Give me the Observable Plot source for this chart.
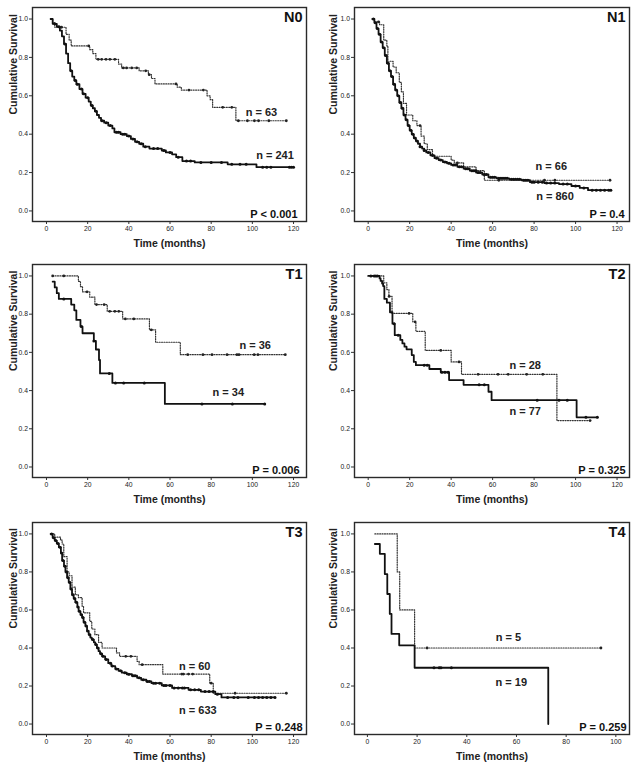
<!DOCTYPE html>
<html><head><meta charset="utf-8">
<script src="https://cdn.jsdelivr.net/npm/d3@7"></script>
<script src="https://cdn.jsdelivr.net/npm/@observablehq/plot@0.6"></script>
<style>
body{margin:0;background:#fff;}
#wrap{position:relative;width:637px;height:770px;background:#fff;}
.p{position:absolute;}
</style></head><body><div id="wrap"></div>
<script>
// ---------- DATA ----------
const panelNames = ["N0", "N1", "T1", "T2", "T3", "T4"];
const pValues = ["P < 0.001", "P = 0.4", "P = 0.006", "P = 0.325", "P = 0.248", "P = 0.259"];
const nSolid = [241, 860, 34, 77, 633, 19];
const nDotted = [63, 66, 36, 28, 60, 5];
const yTickValues = [0, 0.2, 0.4, 0.6, 0.8, 1.0];
const xTicks120 = [0, 20, 40, 60, 80, 100, 120];
const xTicks100 = [0, 20, 40, 60, 80, 100];

// N0
const n0SolidTime = [2, 3, 5, 6.5, 7.5, 8.5, 9.5, 10.5, 11.5, 12.5, 13.5, 14.5, 16, 17.5, 19, 20.5, 21.5, 22.5, 23.5, 24.5, 25.5, 26.5, 28, 30, 32, 33, 36, 39, 41, 43, 45, 47, 50, 56, 58, 61, 63, 66, 72, 88, 102];
const n0SolidSurv = [1.0, 0.975, 0.96, 0.94, 0.91, 0.87, 0.82, 0.77, 0.73, 0.70, 0.68, 0.66, 0.635, 0.61, 0.59, 0.57, 0.55, 0.535, 0.52, 0.50, 0.485, 0.47, 0.46, 0.445, 0.43, 0.41, 0.40, 0.39, 0.375, 0.36, 0.35, 0.335, 0.325, 0.315, 0.305, 0.295, 0.28, 0.26, 0.253, 0.243, 0.228];
const n0SolidEnd = 120;
const n0SolidCens = [4, 6, 9, 12, 14, 15, 17, 18, 20, 22, 24, 27, 29, 31, 34, 35, 37, 38, 40, 42, 44, 46, 48, 52, 54, 57, 60, 64, 68, 70, 75, 80, 85, 90, 94, 97, 105, 107, 109, 118, 119, 120];
const n0DotTime = [2, 3, 4, 9.5, 11, 12, 21, 22.5, 24, 35, 36.5, 45, 49.5, 51, 52.7, 63.5, 65.5, 78, 79.5, 80.7, 92];
const n0DotSurv = [1.0, 0.98, 0.957, 0.92, 0.89, 0.86, 0.84, 0.82, 0.79, 0.765, 0.745, 0.73, 0.71, 0.69, 0.662, 0.645, 0.63, 0.60, 0.58, 0.54, 0.47];
const n0DotEnd = 116.5;
const n0DotCens = [7.3, 20.5, 25.1, 26.8, 28.9, 30.8, 33.2, 37.3, 38.9, 41.4, 43.8, 48.2, 49.9, 62.9, 69.2, 76.2, 85.6, 90, 93.2, 97.6, 101, 103, 108, 116.5];

// N1
const n1SolidTime = [2, 3, 4, 5, 6, 7, 8, 9, 10, 11, 12, 13, 14, 15, 16, 17, 18, 19, 20, 21, 22, 23, 24, 25, 26, 27, 28, 30, 32, 34, 36, 38, 40, 43, 46, 49, 52, 55, 58, 62, 68, 74, 78, 85, 92, 98, 102, 106];
const n1SolidSurv = [1.0, 0.98, 0.95, 0.92, 0.88, 0.85, 0.81, 0.77, 0.73, 0.70, 0.66, 0.63, 0.60, 0.565, 0.535, 0.50, 0.475, 0.445, 0.42, 0.40, 0.38, 0.365, 0.35, 0.335, 0.325, 0.315, 0.305, 0.29, 0.275, 0.265, 0.255, 0.248, 0.24, 0.23, 0.22, 0.21, 0.2, 0.19, 0.175, 0.17, 0.165, 0.16, 0.15, 0.145, 0.14, 0.13, 0.12, 0.108];
const n1SolidEnd = 117;
const n1SolidCens = [2.5, 3.5, 4.5, 5.5, 6.5, 7.5, 8.5, 9.5, 10.5, 11.5, 12.5, 13.5, 14.5, 15.5, 16.5, 17.5, 18.5, 19.5, 20.5, 21.5, 22.5, 23.5, 25, 27, 29, 31, 33, 35, 37, 39, 41, 42, 44, 45, 47, 48, 50, 51, 53, 54, 56, 57, 59, 60, 61, 63, 64, 65, 66, 67, 69, 70, 71, 72, 73, 75, 76, 77, 79, 80, 82, 84, 86, 88, 90, 94, 96, 100, 104, 108, 110, 112, 114, 116, 117];
const n1DotTime = [2, 3, 5.5, 7.5, 9, 9.5, 12, 13.5, 15, 16, 17, 18.5, 21.5, 23.5, 25.5, 27, 28.5, 31, 40, 41.5, 46, 52, 56];
const n1DotSurv = [1.0, 0.985, 0.97, 0.89, 0.86, 0.78, 0.75, 0.72, 0.67, 0.62, 0.56, 0.50, 0.47, 0.445, 0.39, 0.35, 0.32, 0.285, 0.265, 0.25, 0.23, 0.21, 0.16];
const n1DotEnd = 116.6;
const n1DotCens = [5, 25, 43, 52, 63, 85, 90, 116.6];

// T1
const t1SolidTime = [3, 4, 5, 6, 12, 13.5, 14.5, 16.5, 17.5, 23, 24, 25.5, 26, 32, 57.5];
const t1SolidSurv = [0.97, 0.94, 0.91, 0.88, 0.85, 0.82, 0.77, 0.735, 0.70, 0.66, 0.615, 0.56, 0.49, 0.44, 0.33];
const t1SolidEnd = 106;
const t1SolidCens = [8.4, 17, 23, 30.5, 33.5, 37.5, 47.5, 75.5, 90.3, 106];
const t1DotTime = [3, 15.5, 16.5, 17.5, 21, 23.5, 29.5, 37, 50, 53, 65];
const t1DotSurv = [1.0, 0.972, 0.944, 0.917, 0.889, 0.85, 0.815, 0.775, 0.718, 0.653, 0.588];
const t1DotEnd = 116;
const t1DotCens = [3, 8.4, 19.7, 24.3, 28, 30.7, 33.2, 35.1, 38.3, 42.4, 50.9, 68.6, 76, 80.4, 87.7, 92.5, 93.5, 100.9, 102.7, 116];

// T2
const t2SolidTime = [0, 5.5, 6, 6.7, 7.2, 7.8, 9, 10.5, 11.7, 12.8, 15.5, 16.5, 17.5, 18.5, 21, 22, 23, 29.5, 35, 39, 46, 58, 59.5, 100.5];
const t2SolidSurv = [1.0, 0.987, 0.974, 0.96, 0.947, 0.88, 0.86, 0.81, 0.75, 0.69, 0.665, 0.647, 0.63, 0.616, 0.586, 0.55, 0.533, 0.513, 0.496, 0.455, 0.43, 0.394, 0.35, 0.26];
const t2SolidEnd = 110.5;
const t2SolidCens = [1.3, 2.9, 3.7, 4.5, 12.5, 14.5, 27, 28.5, 35.5, 37, 38.5, 53.5, 56, 81.5, 92, 96, 105, 110.5];
const t2DotTime = [1.5, 7.5, 9, 10, 11.5, 21.5, 23, 27.5, 40, 45, 91];
const t2DotSurv = [1.0, 0.964, 0.929, 0.893, 0.804, 0.76, 0.71, 0.61, 0.55, 0.485, 0.243];
const t2DotEnd = 107;
const t2DotCens = [10.1, 19.7, 22.6, 35, 43.8, 53, 62.6, 67.5, 76.4, 84.2, 107];

// T3
const t3SolidTime = [2, 3, 4, 5, 6, 7, 7.6, 8.5, 9.2, 10, 10.8, 11.6, 12.4, 13.2, 14, 15, 15.6, 16.5, 17.3, 18, 18.9, 19.7, 20.5, 21.3, 22, 23, 23.7, 24.5, 25.3, 26, 27, 28.5, 30, 31.5, 33.4, 35, 36.6, 39, 41.5, 44, 46, 48.5, 51, 56, 61, 69, 75, 82, 85];
const t3SolidSurv = [1.0, 0.98, 0.965, 0.95, 0.93, 0.9, 0.86, 0.83, 0.80, 0.77, 0.745, 0.71, 0.68, 0.66, 0.64, 0.615, 0.593, 0.575, 0.56, 0.535, 0.515, 0.49, 0.47, 0.455, 0.444, 0.43, 0.418, 0.4, 0.383, 0.37, 0.356, 0.34, 0.32, 0.305, 0.29, 0.28, 0.27, 0.262, 0.254, 0.243, 0.233, 0.224, 0.215, 0.203, 0.19, 0.18, 0.171, 0.157, 0.14];
const t3SolidEnd = 111;
const t3SolidCens = [2.5, 3.5, 4.5, 5.5, 6.5, 7.3, 8, 9, 9.7, 10.5, 11.3, 12, 12.8, 13.7, 14.5, 15.3, 16, 17, 17.7, 18.5, 19.3, 20, 21, 22.5, 24, 25, 26.5, 27.5, 29, 31, 32, 34, 36, 38, 40, 42, 43, 45, 47, 49, 50, 52, 53, 55, 57, 58, 60, 62, 64, 66, 67, 70, 72, 74, 77, 79, 81, 83, 88, 91, 93, 98, 101, 103, 105, 107, 109, 111];
const t3DotTime = [2, 4, 6.8, 7.6, 8.4, 10, 11, 12.4, 14, 15.5, 17.3, 18, 21, 22, 23.5, 25.3, 27, 34, 35.5, 44, 45, 56.5, 79.3, 81];
const t3DotSurv = [1.0, 0.983, 0.967, 0.947, 0.88, 0.8, 0.78, 0.72, 0.68, 0.665, 0.62, 0.585, 0.54, 0.5, 0.47, 0.43, 0.40, 0.374, 0.356, 0.33, 0.312, 0.263, 0.215, 0.162];
const t3DotEnd = 116.5;
const t3DotCens = [38.5, 41, 46.5, 65.7, 66.5, 69, 71, 80, 91.6, 116.5];

// T4
const t4SolidTime = [3, 5, 7, 8, 9, 9.7, 12.8, 19, 72.8];
const t4SolidSurv = [0.947, 0.895, 0.789, 0.684, 0.579, 0.474, 0.414, 0.296, 0.0];
const t4SolidEnd = 72.8;
const t4SolidCens = [26.8, 28.9, 29.6, 33.8];
const t4DotTime = [3, 12, 13, 19];
const t4DotSurv = [1.0, 0.8, 0.6, 0.4];
const t4DotEnd = 94;
const t4DotCens = [24, 94];

// ---------- LAYOUT ----------
const FONT = "'Liberation Sans', Arial, Helvetica, sans-serif";
const cols = [
  {left: 0, width: 318, mL: 32, mR: 12, xDom: [-6.8, 126.3], yLabDx: -18.7},
  {left: 317, width: 320, mL: 37, mR: 8, xDom: [-6.6, 126], yLabDx: -20.5}
];
const rows = [
  {top: 0, height: 255, mT: 7, mB: 34},
  {top: 255, height: 255, mT: 9, mB: 33},
  {top: 510, height: 260, mT: 12, mB: 36}
];

const panels = [
  {sT: n0SolidTime, sS: n0SolidSurv, sE: n0SolidEnd, sC: n0SolidCens, dT: n0DotTime, dS: n0DotSurv, dE: n0DotEnd, dC: n0DotCens,
   xTicks: xTicks120, dLab: [104.4, 0.515], sLab: [111, 0.29], pDx: -9},
  {sT: n1SolidTime, sS: n1SolidSurv, sE: n1SolidEnd, sC: n1SolidCens, dT: n1DotTime, dS: n1DotSurv, dE: n1DotEnd, dC: n1DotCens,
   xTicks: xTicks120, dLab: [88.3, 0.234], sLab: [90.1, 0.073], pDx: -5},
  {sT: t1SolidTime, sS: t1SolidSurv, sE: t1SolidEnd, sC: t1SolidCens, dT: t1DotTime, dS: t1DotSurv, dE: t1DotEnd, dC: t1DotCens,
   xTicks: xTicks120, dLab: [101.4, 0.636], sLab: [88.3, 0.39], pDx: -7},
  {sT: t2SolidTime, sS: t2SolidSurv, sE: t2SolidEnd, sC: t2SolidCens, dT: t2DotTime, dS: t2DotSurv, dE: t2DotEnd, dC: t2DotCens,
   xTicks: xTicks120, dLab: [75.7, 0.534], sLab: [75.7, 0.293], pDx: -4},
  {sT: t3SolidTime, sS: t3SolidSurv, sE: t3SolidEnd, sC: t3SolidCens, dT: t3DotTime, dS: t3DotSurv, dE: t3DotEnd, dC: t3DotCens,
   xTicks: xTicks120, dLab: [72, 0.303], sLab: [73.5, 0.074], pDx: -4},
  {sT: t4SolidTime, sS: t4SolidSurv, sE: t4SolidEnd, sC: t4SolidCens, dT: t4DotTime, dS: t4DotSurv, dE: t4DotEnd, dC: t4DotCens,
   xTicks: xTicks100, xDom: [-5.2, 105.5], dLab: [56.8, 0.456], sLab: [57.9, 0.22], pDx: -3}
];

function stepAt(times, surv, t) {
  let s = surv[0];
  for (let i = 0; i < times.length; i++) if (times[i] <= t) s = surv[i];
  return s;
}
function stepPoints(times, surv, end) {
  const pts = times.map((t, i) => ({t, s: surv[i]}));
  if (end > times[times.length - 1]) pts.push({t: end, s: surv[surv.length - 1]});
  return pts;
}
function censPoints(times, surv, cens) {
  return cens.map(t => ({t, s: stepAt(times, surv, t)}));
}

const wrap = document.getElementById("wrap");
panels.forEach((p, i) => {
  const col = cols[i % 2], row = rows[Math.floor(i / 2)];
  const solid = stepPoints(p.sT, p.sS, p.sE);
  const dotted = stepPoints(p.dT, p.dS, p.dE);
  const labels = [
    {x: p.dLab[0], y: p.dLab[1], text: `n = ${nDotted[i]}`},
    {x: p.sLab[0], y: p.sLab[1], text: `n = ${nSolid[i]}`}
  ];
  const chart = Plot.plot({
    width: col.width, height: row.height,
    marginLeft: col.mL, marginRight: col.mR, marginTop: row.mT, marginBottom: row.mB,
    x: {domain: p.xDom || col.xDom},
    y: {domain: [-0.055, 1.06]},
    style: {fontFamily: FONT, color: "#222", background: "#fff", overflow: "visible"},
    marks: [
      Plot.axisY(yTickValues, {tickSize: 3, tickPadding: 1.5, tickFormat: d3.format(".1f"), fontSize: 6.8, label: null, stroke: "#333"}),
      Plot.axisX(p.xTicks, {tickSize: 3, tickPadding: 2, fontSize: 6.8, label: null, stroke: "#333"}),
      Plot.line(dotted, {x: "t", y: "s", curve: "step-after", stroke: "#333", strokeWidth: 1.2, strokeDasharray: "1,1.4"}),
      Plot.dot(censPoints(p.dT, p.dS, p.dC), {x: "t", y: "s", r: 1.4, fill: "#222", stroke: "none"}),
      Plot.line(solid, {x: "t", y: "s", curve: "step-after", stroke: "#111", strokeWidth: 1.8}),
      Plot.dot(censPoints(p.sT, p.sS, p.sC), {x: "t", y: "s", r: 1.5, fill: "#111", stroke: "none"}),
      Plot.frame({stroke: "#2a2a2a", strokeWidth: 1.4}),
      Plot.text(labels, {x: "x", y: "y", text: "text", fontSize: 11, fontWeight: "bold", fill: "#222"}),
      Plot.text([panelNames[i]], {text: d => d, frameAnchor: "top-right", dx: -4, dy: 4, textAnchor: "end", lineAnchor: "top", fontSize: 14.5, fontWeight: "bold", fill: "#111"}),
      Plot.text([pValues[i]], {text: d => d, frameAnchor: "bottom-right", dx: p.pDx, dy: -4, textAnchor: "end", lineAnchor: "bottom", fontSize: 11, fontWeight: "bold", fill: "#111"}),
      Plot.text(["Cumulative Survival"], {text: d => d, frameAnchor: "left", dx: col.yLabDx, rotate: -90, fontSize: 10.5, fontWeight: "bold", fill: "#222"}),
      Plot.text(["Time (months)"], {text: d => d, frameAnchor: "bottom", dy: 25, fontSize: 10.5, fontWeight: "bold", fill: "#222"})
    ]
  });
  chart.classList.add("p");
  chart.style.left = col.left + "px";
  chart.style.top = row.top + "px";
  wrap.appendChild(chart);
});
</script>
</body></html>
